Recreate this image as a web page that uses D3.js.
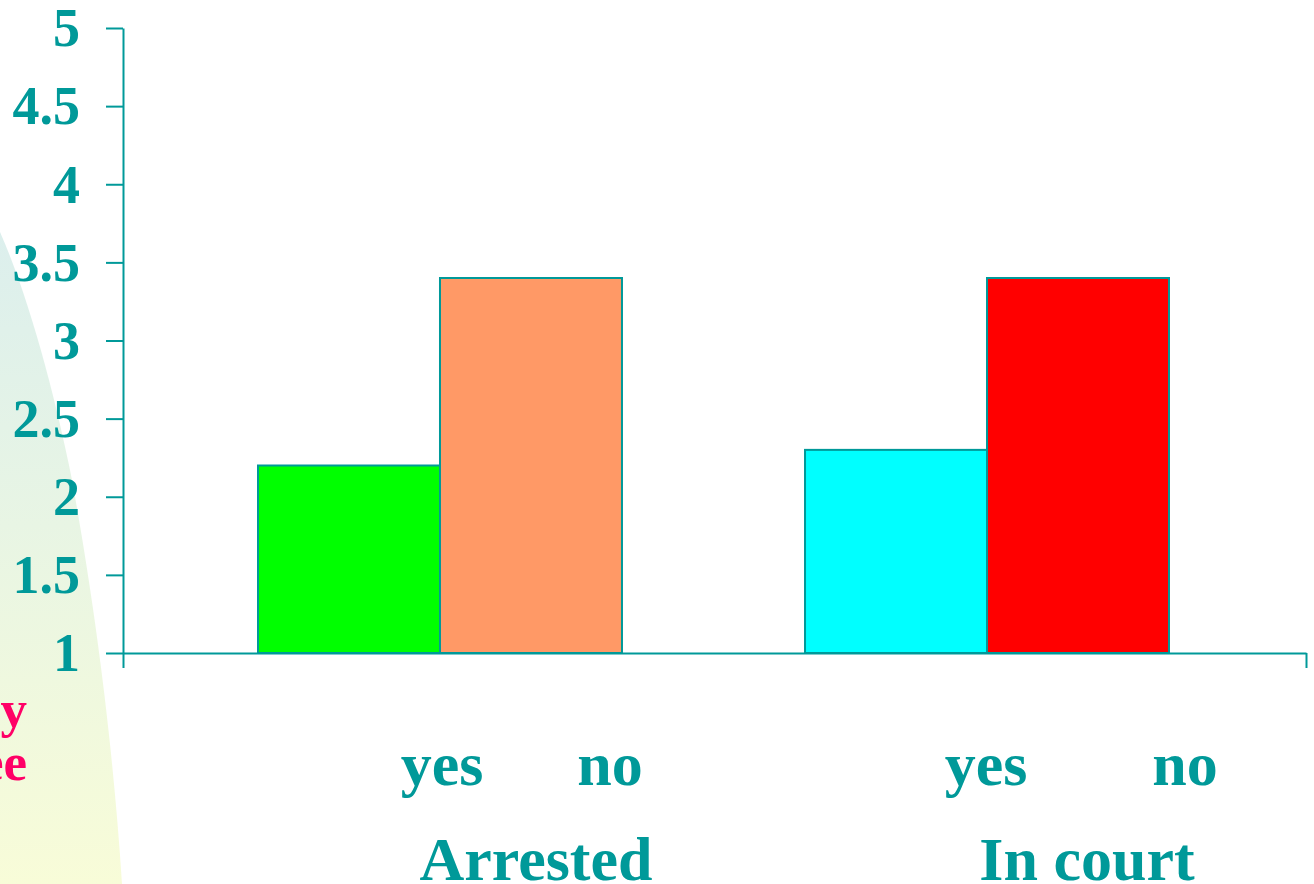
<!DOCTYPE html>
<html>
<head>
<meta charset="utf-8">
<script src="https://cdn.jsdelivr.net/npm/d3@7"></script>
<style>
  html, body { margin: 0; padding: 0; background: #ffffff; }
  svg { display: block; }
</style>
</head>
<body>
<svg id="chart" width="1314" height="884"></svg>
<script>
// Chart data
const groups = ["Arrested", "In court"];
const answers = ["yes", "no"];
const arrestedValues = [2.2, 3.4];
const courtValues = [2.3, 3.4];
const barColors = [["#00ff00", "#ff9966"], ["#00ffff", "#ff0000"]];
const yTicks = [1, 1.5, 2, 2.5, 3, 3.5, 4, 4.5, 5];
const yTickLabels = ["1", "1.5", "2", "2.5", "3", "3.5", "4", "4.5", "5"];
const sideWords = ["y", "ee"];

const teal = "#009999";
const pink = "#ff0066";
const serif = "'Liberation Serif', 'Times New Roman', serif";

const svg = d3.select("#chart");

// Slide backdrop: soft gradient panel on the left edge
const defs = svg.append("defs");
const grad = defs.append("linearGradient")
  .attr("id", "panelGrad").attr("x1", 0).attr("y1", 0).attr("x2", 0).attr("y2", 1);
grad.append("stop").attr("offset", "0%").attr("stop-color", "#dcefed");
grad.append("stop").attr("offset", "45%").attr("stop-color", "#e8f5e4");
grad.append("stop").attr("offset", "100%").attr("stop-color", "#f8fcd8");

svg.append("path")
  .attr("d", "M0,232 C30,300 56,400 72,480 C92,590 112,730 122,884 L0,884 Z")
  .attr("fill", "url(#panelGrad)");

// Cut-off words of the slide text at the left edge
svg.selectAll("text.side").data(sideWords).join("text")
  .attr("class", "side")
  .attr("x", 27)
  .attr("y", (d, i) => 727 + i * 53)
  .attr("text-anchor", "end")
  .attr("font-family", serif)
  .attr("font-weight", "bold")
  .attr("font-size", 53)
  .attr("fill", pink)
  .text(d => d);

// Scales
const plotLeft = 123, plotRight = 1306;
const y = d3.scaleLinear().domain([1, 5]).range([653, 28]);
const x0 = d3.scaleBand().domain(groups).range([258, 1169]).paddingInner(0.3346).paddingOuter(0);
const x1 = d3.scaleBand().domain(answers).range([0, x0.bandwidth()]);

const valuesByGroup = [arrestedValues, courtValues];
const barData = [];
groups.forEach((g, gi) => {
  answers.forEach((a, ai) => {
    barData.push({ group: g, answer: a, value: valuesByGroup[gi][ai], color: barColors[gi][ai] });
  });
});

// Bars
svg.append("g").selectAll("rect").data(barData).join("rect")
  .attr("x", d => x0(d.group) + x1(d.answer))
  .attr("y", d => y(d.value))
  .attr("width", x1.bandwidth())
  .attr("height", d => y(1) - y(d.value))
  .attr("fill", d => d.color)
  .attr("stroke", teal)
  .attr("stroke-width", 2);

// Y axis
const yAxis = d3.axisLeft(y)
  .tickValues(yTicks)
  .tickFormat((d, i) => yTickLabels[i])
  .tickSizeInner(17)
  .tickSizeOuter(0)
  .tickPadding(26);

const gy = svg.append("g").attr("transform", `translate(${plotLeft},0)`).call(yAxis);
gy.select(".domain").attr("stroke", teal).attr("stroke-width", 2);
gy.selectAll(".tick line").attr("stroke", teal).attr("stroke-width", 2);
gy.selectAll(".tick text")
  .attr("fill", teal)
  .attr("font-family", serif)
  .attr("font-weight", "bold")
  .attr("font-size", 54)
  .attr("dy", "0.33em");

// X axis with end tick marks
const xLine = d3.scaleLinear().domain([0, 1]).range([plotLeft, plotRight]);
const xAxis = d3.axisBottom(xLine).tickValues([0, 1]).tickFormat("").tickSizeInner(15).tickSizeOuter(0);
const gx = svg.append("g").attr("transform", `translate(0,${y(1)})`).call(xAxis);
gx.select(".domain").attr("stroke", teal).attr("stroke-width", 2);
gx.selectAll(".tick line").attr("stroke", teal).attr("stroke-width", 2);

// Category labels
const labelLayout = {
  "Arrested": { yes: 2, no: 170, title: 96 },
  "In court": { yes: -1, no: 198, title: 100 }
};
const lg = svg.append("g")
  .attr("fill", teal)
  .attr("font-family", serif)
  .attr("font-weight", "bold")
  .attr("font-size", 62)
  .attr("text-anchor", "middle");

groups.forEach(g => {
  const c = x0(g) + x0.bandwidth() / 2;
  const L = labelLayout[g];
  answers.forEach(a => {
    lg.append("text").attr("x", c + L[a]).attr("y", 785).text(a);
  });
  lg.append("text").attr("x", c + L.title).attr("y", 880).text(g);
});
</script>
</body>
</html>
